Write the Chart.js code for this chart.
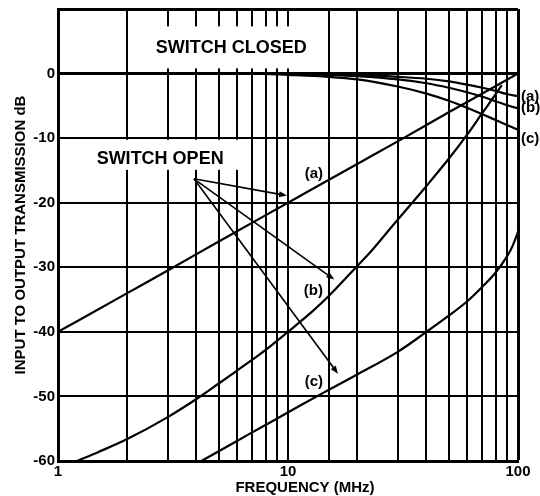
<!DOCTYPE html>
<html lang="en">
<head>
    <meta charset="UTF-8">
    <title>Input to Output Transmission vs Frequency</title>
    <script src="https://cdn.jsdelivr.net/npm/chart.js"></script>
    <style>
        body { margin: 0; background: #fff; }
        #wrap { width: 540px; height: 496px; }
    </style>
</head>
<body>
    <div id="wrap"><canvas id="chart" width="540" height="496"></canvas></div>

    <script>
        // Switch closed curves (a), (b), (c)
        const freqClosed = [5.2, 7, 10, 15, 20, 30, 40, 50, 60, 70, 80, 90, 100];
        const closedA = [0, 0, 0, -0.1, -0.2, -0.5, -0.8, -1.2, -1.7, -2.2, -2.7, -3.2, -3.5];
        const closedB = [0, 0, -0.05, -0.2, -0.4, -0.9, -1.5, -2.2, -2.9, -3.6, -4.3, -4.9, -5.4];
        const closedC = [0, 0, -0.2, -0.5, -0.9, -2.0, -3.1, -4.2, -5.3, -6.3, -7.2, -8.0, -8.7];

        // Switch open curves
        const freqOpenA = [1, 2, 3, 5, 10, 20, 30, 50, 100];
        const openA = [-40, -34, -30.5, -26, -20, -14, -10.5, -6, 0];

        const freqOpenB = [1.21, 1.5, 2, 3, 4, 5, 6, 7, 8, 10, 12.8, 15, 20, 23.4, 28.6, 40, 50, 60, 70, 80, 85];
        const openB = [-60, -58.6, -56.6, -53.2, -50.4, -48, -46.0, -44.3, -42.8, -40, -36.8, -34.5, -29.8, -27.2, -23.5, -17.4, -13.2, -9.5, -6.1, -3.2, -1.8];

        const freqOpenC = [4.2, 5, 6.8, 8.9, 11.3, 15, 20, 30, 40, 50, 60, 70, 80, 90, 95, 100];
        const openC = [-60, -58.5, -55.8, -53.5, -51.4, -49.0, -46.6, -43.1, -40, -37.5, -35.3, -33.0, -30.8, -28.2, -26.6, -24.5];

        // axis ticks
        const xLabels = [1, 10, 100];
        const yTicks = [-60, -50, -40, -30, -20, -10, 0];

        // annotations (data coordinates)
        const noteText = ['SWITCH CLOSED', 'SWITCH OPEN', '(a)', '(b)', '(c)'];
        const noteFreq = [5.66, 2.78, 12.95, 12.9, 12.95];
        const noteDb = [3.9, -13.2, -15.6, -33.6, -47.8];
        const endText = ['(a)', '(b)', '(c)'];
        const endDb = [-3.55, -5.25, -10.1];
        const arrowFrom = [3.9, -16.3];
        const arrowToFreq = [9.9, 15.9, 16.5];
        const arrowToDb = [-18.9, -31.9, -46.5];

        const FONT = "'Liberation Sans', Arial, sans-serif";

        function pts(xs, ys) {
            return xs.map((x, i) => ({ x: x, y: ys[i] }));
        }

        function curve(xs, ys) {
            return {
                data: pts(xs, ys),
                borderColor: '#000',
                borderWidth: 2.2,
                pointRadius: 0,
                fill: false,
                cubicInterpolationMode: 'monotone'
            };
        }

        const annot = {
            id: 'annot',
            beforeDatasetsDraw(chart) {
                const ctx = chart.ctx;
                const xs = chart.scales.x, ys = chart.scales.y;
                // white boxes behind the two big labels
                ctx.save();
                ctx.fillStyle = '#fff';
                ctx.font = 'bold 18px ' + FONT;
                const pads = [[4, 14, 22, 20], [5, 21, 19, 11]];
                for (let i = 0; i < 2; i++) {
                    const cx = xs.getPixelForValue(noteFreq[i]);
                    const cy = ys.getPixelForValue(noteDb[i]);
                    const w = ctx.measureText(noteText[i]).width;
                    const p = pads[i];
                    ctx.fillRect(cx - w / 2 - p[0], cy - p[2], w + p[0] + p[1], p[2] + p[3]);
                }
                ctx.restore();
            },
            afterDatasetsDraw(chart) {
                const ctx = chart.ctx;
                const xs = chart.scales.x, ys = chart.scales.y;
                const area = chart.chartArea;
                ctx.save();
                ctx.fillStyle = '#000';
                ctx.textAlign = 'center';
                ctx.textBaseline = 'middle';
                noteText.forEach((t, i) => {
                    ctx.font = (i < 2 ? 'bold 18px ' : 'bold 15px ') + FONT;
                    ctx.fillText(t, xs.getPixelForValue(noteFreq[i]), ys.getPixelForValue(noteDb[i]));
                });

                // arrows
                ctx.strokeStyle = '#000';
                ctx.lineWidth = 1.6;
                const x0 = xs.getPixelForValue(arrowFrom[0]);
                const y0 = ys.getPixelForValue(arrowFrom[1]);
                arrowToFreq.forEach((f, i) => {
                    const x1 = xs.getPixelForValue(f);
                    const y1 = ys.getPixelForValue(arrowToDb[i]);
                    const a = Math.atan2(y1 - y0, x1 - x0);
                    const L = 8, W = 3;
                    ctx.beginPath();
                    ctx.moveTo(x0, y0);
                    ctx.lineTo(x1 - L * 0.7 * Math.cos(a), y1 - L * 0.7 * Math.sin(a));
                    ctx.stroke();
                    ctx.beginPath();
                    ctx.moveTo(x1, y1);
                    ctx.lineTo(x1 - L * Math.cos(a) + W * Math.sin(a), y1 - L * Math.sin(a) - W * Math.cos(a));
                    ctx.lineTo(x1 - L * Math.cos(a) - W * Math.sin(a), y1 - L * Math.sin(a) + W * Math.cos(a));
                    ctx.closePath();
                    ctx.fill();
                });

                // end labels right of the plot
                ctx.font = 'bold 15px ' + FONT;
                ctx.textAlign = 'left';
                endText.forEach((t, i) => {
                    ctx.fillText(t, area.right + 3, ys.getPixelForValue(endDb[i]));
                });

                // axis titles
                ctx.textAlign = 'center';
                ctx.font = 'bold 15px ' + FONT;
                ctx.fillText('FREQUENCY (MHz)', (area.left + area.right) / 2 + 17, area.bottom + 27);
                ctx.translate(21, (area.top + area.bottom) / 2);
                ctx.rotate(-Math.PI / 2);
                ctx.fillText('INPUT TO OUTPUT TRANSMISSION dB', 0, 0);
                ctx.restore();
            }
        };

        new Chart(document.getElementById('chart'), {
            type: 'line',
            data: {
                datasets: [
                    curve(freqClosed, closedA),
                    curve(freqClosed, closedB),
                    curve(freqClosed, closedC),
                    curve(freqOpenA, openA),
                    curve(freqOpenB, openB),
                    curve(freqOpenC, openC)
                ]
            },
            options: {
                responsive: false,
                animation: false,
                events: [],
                layout: { padding: { top: 9, right: 22, left: 0, bottom: 0 } },
                plugins: {
                    legend: { display: false },
                    tooltip: { enabled: false }
                },
                scales: {
                    x: {
                        type: 'logarithmic',
                        min: 1,
                        max: 100,
                        border: { display: true, width: 3, color: '#000' },
                        grid: {
                            color: '#000',
                            drawTicks: false,
                            lineWidth: c => (c.tick && c.tick.value === 100 ? 3 : 2)
                        },
                        ticks: {
                            autoSkip: false,
                            maxRotation: 0,
                            padding: 2,
                            color: '#000',
                            font: { family: FONT, size: 15, weight: 'bold' },
                            callback: v => (xLabels.includes(v) ? String(v) : '')
                        },
                        afterFit: s => { s.height = 35; }
                    },
                    y: {
                        min: -60,
                        max: 10,
                        border: { display: true, width: 3, color: '#000' },
                        grid: {
                            color: '#000',
                            drawTicks: false,
                            lineWidth: c => (c.tick && (c.tick.value === 0 || c.tick.value === 10) ? 3 : 2)
                        },
                        ticks: {
                            stepSize: 10,
                            padding: 3,
                            color: '#000',
                            font: { family: FONT, size: 15, weight: 'bold' },
                            callback: v => (yTicks.includes(v) ? String(v) : '')
                        },
                        afterFit: s => {
                            s.width = 58;
                            s.paddingTop = 0;
                            s.paddingBottom = 0;
                        }
                    }
                }
            },
            plugins: [annot]
        });
    </script>
</body>
</html>
